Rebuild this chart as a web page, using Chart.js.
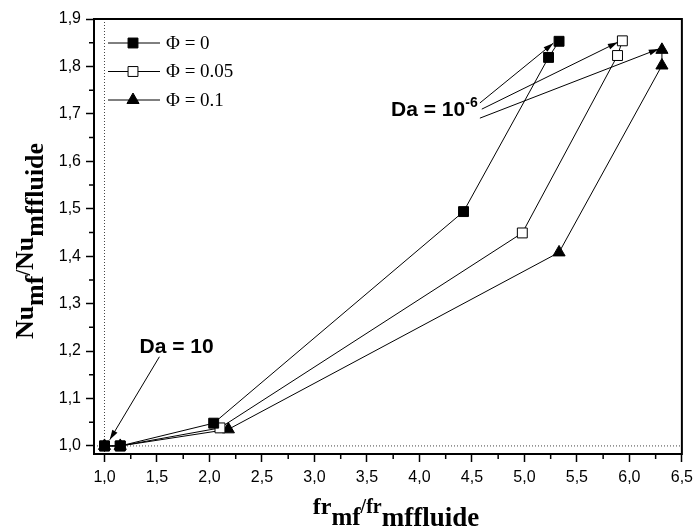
<!DOCTYPE html>
<html>
<head>
<meta charset="utf-8">
<script src="https://cdn.jsdelivr.net/npm/chart.js@4.4.0/dist/chart.umd.min.js"></script>
<style>
body { margin: 0; background: #fff; }
#wrap { width: 699px; height: 530px; }
</style>
</head>
<body>
<div id="wrap"><canvas id="myChart" width="699" height="530"></canvas></div>
<script>
// values
const phi0X = [1.0, 1.15, 2.04, 4.42, 5.23, 5.33];
const phi0Y = [1.0, 1.0, 1.048, 1.494, 1.819, 1.853];
const phi005X = [1.0, 1.15, 2.1, 4.98, 5.887, 5.933];
const phi005Y = [1.0, 1.0, 1.038, 1.449, 1.823, 1.854];
const phi01X = [1.0, 1.15, 2.18, 5.33, 6.31, 6.31];
const phi01Y = [1.0, 1.0, 1.035, 1.408, 1.802, 1.835];
const seriesLabels = ['\u03A6 = 0', '\u03A6 = 0.05', '\u03A6 = 0.1'];

const xTicks = [1.0, 1.5, 2.0, 2.5, 3.0, 3.5, 4.0, 4.5, 5.0, 5.5, 6.0, 6.5];
const yTicks = [1.0, 1.1, 1.2, 1.3, 1.4, 1.5, 1.6, 1.7, 1.8, 1.9];

const serif = '"Liberation Serif", "Times New Roman", serif';
const sans = '"Liberation Sans", Arial, sans-serif';

function toPts(xs, ys) {
    return xs.map((x, i) => ({ x: x, y: ys[i] }));
}
function fmt(v) {
    return Number(v).toFixed(1).replace('.', ',');
}

// text with sub/superscripts, drawn left to right from (x, y) baseline
function richWidth(ctx, parts) {
    let w = 0;
    parts.forEach(p => {
        ctx.font = 'bold ' + p.size + 'px ' + serif;
        w += ctx.measureText(p.t).width;
    });
    return w;
}
function drawRich(ctx, parts, x, y) {
    parts.forEach(p => {
        ctx.font = 'bold ' + p.size + 'px ' + serif;
        ctx.fillText(p.t, x, y + p.dy);
        x += ctx.measureText(p.t).width;
    });
}

function arrow(ctx, x1, y1, x2, y2) {
    const a = Math.atan2(y2 - y1, x2 - x1);
    ctx.beginPath();
    ctx.moveTo(x1, y1);
    ctx.lineTo(x2, y2);
    ctx.stroke();
    ctx.beginPath();
    ctx.moveTo(x2, y2);
    ctx.lineTo(x2 - 10 * Math.cos(a) + 3 * Math.sin(a), y2 - 10 * Math.sin(a) - 3 * Math.cos(a));
    ctx.lineTo(x2 - 10 * Math.cos(a) - 3 * Math.sin(a), y2 - 10 * Math.sin(a) + 3 * Math.cos(a));
    ctx.closePath();
    ctx.fill();
}

const decor = {
    id: 'decor',
    beforeDatasetsDraw(chart) {
        const ctx = chart.ctx, a = chart.chartArea;
        const xs = chart.scales.x, ys = chart.scales.y;
        ctx.save();
        ctx.strokeStyle = '#444';
        ctx.lineWidth = 1;
        ctx.setLineDash([1, 2]);
        const px = xs.getPixelForValue(1.0), py = ys.getPixelForValue(1.0);
        ctx.beginPath();
        ctx.moveTo(px, a.top); ctx.lineTo(px, a.bottom);
        ctx.moveTo(a.left, py); ctx.lineTo(a.right, py);
        ctx.stroke();
        ctx.restore();
    },
    afterDraw(chart) {
        const ctx = chart.ctx, a = chart.chartArea;
        const xs = chart.scales.x, ys = chart.scales.y;
        ctx.save();
        // frame
        ctx.strokeStyle = '#000';
        ctx.lineWidth = 2;
        ctx.strokeRect(a.left, a.top, a.right - a.left, a.bottom - a.top);
        // minor ticks
        ctx.lineWidth = 1.5;
        ctx.beginPath();
        for (let v = 1.25; v < 6.5; v += 0.5) {
            const p = xs.getPixelForValue(v);
            ctx.moveTo(p, a.bottom); ctx.lineTo(p, a.bottom + 5);
        }
        for (let v = 1.05; v < 1.9; v += 0.1) {
            const p = ys.getPixelForValue(v);
            ctx.moveTo(a.left - 5, p); ctx.lineTo(a.left, p);
        }
        ctx.stroke();

        // legend
        ctx.fillStyle = '#000';
        ctx.textBaseline = 'middle';
        chart.data.datasets.forEach((ds, i) => {
            const y = 43 + i * 28.5;
            ctx.strokeStyle = '#000';
            ctx.lineWidth = 1;
            ctx.beginPath();
            ctx.moveTo(108, y); ctx.lineTo(160, y);
            ctx.stroke();
            ctx.fillStyle = ds.pointBackgroundColor;
            Chart.helpers.drawPoint(ctx, { pointStyle: ds.pointStyle, radius: ds.pointRadius, rotation: 0, borderWidth: 1 }, 133, y);
            ctx.fillStyle = '#000';
            ctx.font = '19px ' + serif;
            ctx.fillText(ds.label, 166, y + 1);
        });

        // annotations
        ctx.textBaseline = 'alphabetic';
        ctx.lineWidth = 1;
        ctx.strokeStyle = '#000';
        ctx.fillStyle = '#000';
        ctx.font = 'bold 21px ' + sans;
        ctx.fillText('Da = 10', xs.getPixelForValue(1.334), ys.getPixelForValue(1.196));
        arrow(ctx, xs.getPixelForValue(1.523), ys.getPixelForValue(1.188), xs.getPixelForValue(1.05), ys.getPixelForValue(1.013));

        const tx = xs.getPixelForValue(3.73), ty = ys.getPixelForValue(1.695);
        ctx.fillText('Da = 10', tx, ty);
        const tw = ctx.measureText('Da = 10').width;
        ctx.font = 'bold 14px ' + sans;
        ctx.fillText('-6', tx + tw, ty - 9);
        arrow(ctx, xs.getPixelForValue(4.576), ys.getPixelForValue(1.723), xs.getPixelForValue(5.275), ys.getPixelForValue(1.849));
        arrow(ctx, xs.getPixelForValue(4.594), ys.getPixelForValue(1.71), xs.getPixelForValue(5.89), ys.getPixelForValue(1.851));
        arrow(ctx, xs.getPixelForValue(4.576), ys.getPixelForValue(1.691), xs.getPixelForValue(6.28), ys.getPixelForValue(1.837));

        // axis titles
        const xt = [
            { t: 'fr', size: 24, dy: 0 },
            { t: 'mf', size: 25, dy: 11 },
            { t: '/fr', size: 20, dy: -1 },
            { t: 'mffluide', size: 27, dy: 12 }
        ];
        const xw = richWidth(ctx, xt);
        drawRich(ctx, xt, 396 - xw / 2, 514);

        const yt = [
            { t: 'Nu', size: 26, dy: 0 },
            { t: 'mf', size: 26, dy: 10 },
            { t: '/', size: 20, dy: -3 },
            { t: 'Nu', size: 26, dy: 0 },
            { t: 'mffluide', size: 26, dy: 10 }
        ];
        const yw = richWidth(ctx, yt);
        ctx.translate(33, 241);
        ctx.rotate(-Math.PI / 2);
        drawRich(ctx, yt, -yw / 2, 0);
        ctx.restore();
    }
};

const tickFont = { family: sans, size: 16 };

const myChart = new Chart(document.getElementById('myChart'), {
    type: 'line',
    data: {
        datasets: [
            {
                label: seriesLabels[0],
                data: toPts(phi0X, phi0Y),
                borderColor: '#000',
                borderWidth: 1,
                pointStyle: 'rect',
                pointRadius: 7,
                pointBackgroundColor: '#000',
                pointBorderColor: '#000',
                pointBorderWidth: 1
            },
            {
                label: seriesLabels[1],
                data: toPts(phi005X, phi005Y),
                borderColor: '#000',
                borderWidth: 1,
                pointStyle: 'rect',
                pointRadius: 7,
                pointBackgroundColor: '#fff',
                pointBorderColor: '#000',
                pointBorderWidth: 1
            },
            {
                label: seriesLabels[2],
                data: toPts(phi01X, phi01Y),
                borderColor: '#000',
                borderWidth: 1,
                pointStyle: 'triangle',
                pointRadius: 7,
                pointBackgroundColor: '#000',
                pointBorderColor: '#000',
                pointBorderWidth: 1
            }
        ]
    },
    options: {
        responsive: false,
        animation: false,
        layout: { padding: { left: 0, top: 19, right: 13, bottom: 0 } },
        plugins: {
            legend: { display: false },
            tooltip: { enabled: false }
        },
        scales: {
            x: {
                type: 'linear',
                min: 0.9,
                max: 6.5,
                afterBuildTicks: s => { s.ticks = xTicks.map(v => ({ value: v })); },
                afterFit: s => { s.height = 76; },
                ticks: { color: '#000', font: tickFont, padding: 6, maxRotation: 0, autoSkip: false, callback: v => fmt(v) },
                grid: { display: true, drawOnChartArea: false, drawTicks: true, tickLength: 8, tickColor: '#000', tickWidth: 1.5 },
                border: { display: false }
            },
            y: {
                type: 'linear',
                min: 0.983,
                max: 1.9,
                afterBuildTicks: s => { s.ticks = yTicks.map(v => ({ value: v })); },
                afterFit: s => { s.width = 94; },
                ticks: { color: '#000', font: tickFont, padding: 5, autoSkip: false, callback: v => fmt(v) },
                grid: { display: true, drawOnChartArea: false, drawTicks: true, tickLength: 8, tickColor: '#000', tickWidth: 1.5 },
                border: { display: false }
            }
        }
    },
    plugins: [decor]
});
</script>
</body>
</html>
